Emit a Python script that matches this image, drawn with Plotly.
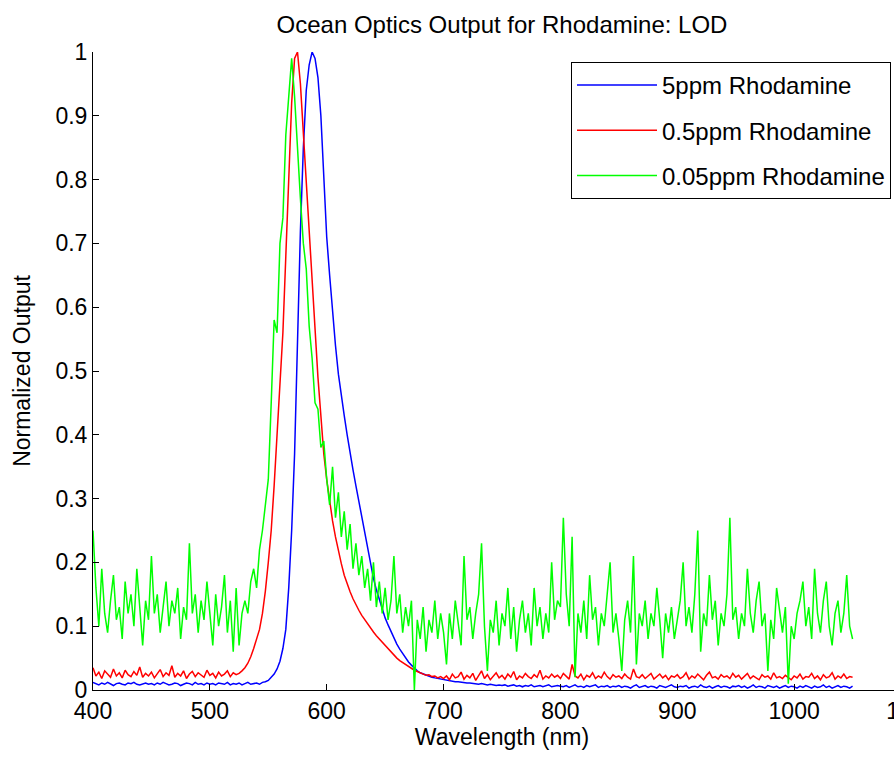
import plotly.graph_objects as go

# wavelength grid (nm), 2.5 nm spacing from 400 to 1050
wavelength = [400 + 2.5 * i for i in range(261)]

blue_5ppm = [
    0.012, 0.010, 0.008, 0.011, 0.009, 0.012, 0.010, 0.007, 0.010, 0.011, 0.009, 0.008, 0.011, 0.010, 0.012, 0.009, 0.008, 0.010, 0.011, 0.009,
    0.010, 0.008, 0.011, 0.009, 0.012, 0.010, 0.008, 0.009, 0.011, 0.010, 0.007, 0.009, 0.011, 0.010, 0.008, 0.012, 0.009, 0.010, 0.008, 0.011,
    0.009, 0.010, 0.008, 0.011, 0.010, 0.009, 0.012, 0.008, 0.010, 0.009, 0.011, 0.008, 0.010, 0.012, 0.009, 0.010, 0.011, 0.009, 0.012, 0.013,
    0.015, 0.020, 0.025, 0.033, 0.045, 0.065, 0.095, 0.16, 0.25, 0.37, 0.55, 0.72, 0.85, 0.94, 0.98, 1.0, 0.99, 0.96, 0.90, 0.81,
    0.71, 0.65, 0.59, 0.54, 0.495, 0.46, 0.43, 0.40, 0.37, 0.345, 0.32, 0.295, 0.27, 0.245, 0.22, 0.195, 0.175, 0.157, 0.142, 0.127,
    0.113, 0.102, 0.091, 0.081, 0.072, 0.064, 0.057, 0.05, 0.044, 0.039, 0.034, 0.030, 0.027, 0.025, 0.023, 0.021, 0.020, 0.019, 0.018, 0.017,
    0.016, 0.015, 0.015, 0.014, 0.013, 0.013, 0.012, 0.012, 0.011, 0.011, 0.010, 0.010, 0.009, 0.010, 0.009, 0.008, 0.009, 0.008, 0.007, 0.008,
    0.007, 0.008, 0.006, 0.007, 0.008, 0.006, 0.007, 0.005, 0.007, 0.006, 0.008, 0.005, 0.006, 0.007, 0.005, 0.006, 0.008, 0.005, 0.006, 0.007,
    0.006, 0.005, 0.007, 0.004, 0.006, 0.008, 0.005, 0.006, 0.004, 0.007, 0.005, 0.006, 0.008, 0.004, 0.006, 0.005, 0.007, 0.004, 0.006, 0.005,
    0.007, 0.004, 0.006, 0.005, 0.003, 0.006, 0.008, 0.004, 0.005, 0.007, 0.004, 0.006, 0.005, 0.003, 0.007, 0.005, 0.004, 0.006, 0.008, 0.005,
    0.004, 0.006, 0.005, 0.007, 0.003, 0.005, 0.006, 0.004, 0.008, 0.005, 0.004, 0.006, 0.003, 0.005, 0.007, 0.004, 0.006, 0.005, 0.003, 0.006,
    0.005, 0.007, 0.004, 0.006, 0.003, 0.005, 0.008, 0.004, 0.006, 0.005, 0.003, 0.007, 0.005, 0.004, 0.006, 0.003, 0.005, 0.007, 0.004, 0.006,
    0.005, 0.003, 0.006, 0.004, 0.007, 0.005, 0.003, 0.006, 0.004, 0.005, 0.008, 0.004, 0.006, 0.003, 0.005, 0.007, 0.004, 0.006, 0.005, 0.003, 0.006,
]

red_05ppm = [
    0.035, 0.022, 0.028, 0.018, 0.030, 0.025, 0.020, 0.033, 0.022, 0.027, 0.019, 0.031, 0.024, 0.021, 0.029, 0.023, 0.036, 0.020, 0.026, 0.022,
    0.028, 0.019, 0.025, 0.032, 0.021, 0.027, 0.023, 0.038, 0.020, 0.026, 0.022, 0.030, 0.018, 0.025, 0.029, 0.021, 0.027, 0.024, 0.020, 0.031,
    0.023, 0.026, 0.019, 0.028, 0.022, 0.025, 0.030, 0.021, 0.027, 0.024, 0.026, 0.030, 0.035, 0.042, 0.052, 0.065, 0.080, 0.095, 0.12, 0.155,
    0.20, 0.25, 0.32, 0.40, 0.48, 0.56, 0.68, 0.80, 0.92, 0.99, 1.0, 0.95, 0.87, 0.79, 0.71, 0.63, 0.56, 0.49, 0.43, 0.37,
    0.33, 0.295, 0.265, 0.24, 0.218, 0.198, 0.18, 0.166, 0.154, 0.143, 0.133, 0.125, 0.117, 0.110, 0.103, 0.097, 0.091, 0.085, 0.080, 0.074,
    0.069, 0.064, 0.059, 0.054, 0.050, 0.046, 0.043, 0.040, 0.036, 0.033, 0.031, 0.029, 0.027, 0.025, 0.023, 0.024, 0.021, 0.022, 0.019, 0.021,
    0.018, 0.022, 0.016, 0.025, 0.019, 0.021, 0.028, 0.017, 0.023, 0.019, 0.026, 0.015, 0.022, 0.030, 0.018, 0.024, 0.016, 0.021, 0.027, 0.019,
    0.023, 0.017, 0.025, 0.020, 0.029, 0.016, 0.022, 0.019, 0.026, 0.021, 0.018, 0.024, 0.020, 0.031, 0.017, 0.022, 0.019, 0.025, 0.020, 0.023,
    0.018, 0.026, 0.021, 0.017, 0.040, 0.022, 0.019, 0.025, 0.016, 0.023, 0.020, 0.027, 0.018, 0.022, 0.019, 0.028, 0.021, 0.017, 0.024, 0.020,
    0.022, 0.018, 0.025, 0.020, 0.017, 0.033, 0.021, 0.019, 0.024, 0.018, 0.022, 0.026, 0.017, 0.021, 0.025, 0.019, 0.023, 0.016, 0.022, 0.020,
    0.024, 0.018, 0.021, 0.027, 0.017, 0.022, 0.019, 0.025, 0.020, 0.016, 0.023, 0.028, 0.019, 0.021, 0.017, 0.024, 0.020, 0.022, 0.018, 0.026,
    0.020, 0.023, 0.017, 0.021, 0.026, 0.018, 0.022, 0.019, 0.016, 0.024, 0.020, 0.022, 0.017, 0.027, 0.019, 0.021, 0.018, 0.023, 0.020, 0.016,
    0.022, 0.019, 0.025, 0.017, 0.021, 0.020, 0.026, 0.018, 0.022, 0.016, 0.024, 0.019, 0.021, 0.027, 0.017, 0.022, 0.019, 0.025, 0.018, 0.021, 0.020,
]

green_005ppm = [
    0.25, 0.16, 0.10, 0.19, 0.12, 0.09, 0.14, 0.18, 0.11, 0.13, 0.08, 0.17, 0.12, 0.15, 0.10, 0.19, 0.13, 0.07, 0.14, 0.11,
    0.21, 0.12, 0.15, 0.09, 0.13, 0.17, 0.10, 0.14, 0.12, 0.16, 0.08, 0.13, 0.11, 0.23, 0.12, 0.15, 0.09, 0.14, 0.11, 0.17,
    0.12, 0.07, 0.15, 0.10, 0.13, 0.18, 0.09, 0.14, 0.06, 0.16, 0.07, 0.12, 0.14, 0.12, 0.17, 0.19, 0.16, 0.22, 0.25, 0.29,
    0.33, 0.45, 0.58, 0.56, 0.70, 0.74, 0.87, 0.93, 0.99, 0.93, 0.84, 0.77, 0.70, 0.66, 0.57, 0.52, 0.45, 0.44, 0.38, 0.39,
    0.33, 0.29, 0.35, 0.27, 0.31, 0.24, 0.28, 0.22, 0.26, 0.19, 0.23, 0.18, 0.21, 0.16, 0.19, 0.14, 0.20, 0.13, 0.17, 0.12,
    0.16, 0.11, 0.14, 0.21, 0.12, 0.15, 0.09, 0.13, 0.10, 0.14, 0.0, 0.11, 0.08, 0.13, 0.06, 0.11, 0.09, 0.14, 0.08, 0.12,
    0.09, 0.04, 0.12, 0.08, 0.14, 0.10, 0.07, 0.21, 0.11, 0.13, 0.08, 0.12, 0.15, 0.23, 0.10, 0.03, 0.11, 0.09, 0.14, 0.07,
    0.12, 0.10, 0.16, 0.08, 0.13, 0.06, 0.11, 0.14, 0.09, 0.12, 0.07, 0.16, 0.10, 0.13, 0.08, 0.12, 0.09, 0.20, 0.11, 0.14,
    0.13, 0.27, 0.15, 0.10, 0.24, 0.02, 0.12, 0.09, 0.14, 0.08, 0.18, 0.11, 0.13, 0.07, 0.12, 0.10, 0.15, 0.20, 0.09, 0.12,
    0.08, 0.03, 0.11, 0.14, 0.09, 0.21, 0.04, 0.12, 0.10, 0.14, 0.08, 0.12, 0.10, 0.16, 0.11, 0.05, 0.12, 0.09, 0.13, 0.08,
    0.11, 0.14, 0.20, 0.10, 0.13, 0.09, 0.15, 0.25, 0.06, 0.12, 0.10, 0.18, 0.11, 0.14, 0.07, 0.12, 0.10, 0.15, 0.27, 0.11,
    0.13, 0.08, 0.12, 0.10, 0.19, 0.12, 0.09, 0.14, 0.17, 0.10, 0.12, 0.03, 0.11, 0.08, 0.16, 0.12, 0.09, 0.13, 0.01, 0.10,
    0.08, 0.12, 0.14, 0.17, 0.10, 0.13, 0.08, 0.19, 0.12, 0.09, 0.14, 0.17, 0.10, 0.07, 0.12, 0.14, 0.09, 0.12, 0.18, 0.10, 0.08,
]

series_names = ["5ppm Rhodamine", "0.5ppm Rhodamine", "0.05ppm Rhodamine"]
series_values = [blue_5ppm, red_05ppm, green_005ppm]
series_colors = ["#0000ff", "#ff0000", "#00ff00"]

FONT = "Liberation Sans, Arial, Helvetica, sans-serif"

fig = go.Figure()
for name, vals, col in zip(series_names, series_values, series_colors):
    fig.add_trace(go.Scatter(
        x=wavelength, y=vals, mode="lines", name=name, legendgroup=name,
        line=dict(color=col, width=1.5),
    ))

axis_common = dict(
    showline=True, linecolor="black", linewidth=1, mirror=False,
    ticks="inside", ticklen=6, tickwidth=1, tickcolor="black",
    showgrid=False, zeroline=False, automargin=False,
    tickfont=dict(family=FONT, size=23, color="black"),
)

fig.update_layout(
    width=912, height=762, autosize=False,
    margin=dict(l=93, r=1, t=52, b=72, autoexpand=False),
    paper_bgcolor="white", plot_bgcolor="white",
    font=dict(family=FONT, size=23, color="black"),
    title=dict(text="Ocean Optics Output for Rhodamine: LOD", x=0.5, xref="paper",
               y=1 - 25 / 762, yref="container", yanchor="middle", xanchor="center",
               font=dict(family=FONT, size=24, color="black")),
    xaxis=dict(range=[400, 1100], dtick=100, tick0=400, ticklabeloverflow="allow",
               title=dict(text="Wavelength (nm)", font=dict(family=FONT, size=23, color="black"), standoff=6),
               **axis_common),
    yaxis=dict(range=[0, 1], dtick=0.1, tick0=0,
               title=dict(text="Normalized Output", font=dict(family=FONT, size=23, color="black"), standoff=18),
               **axis_common),
    legend=dict(x=(891 - 93) / (911 - 93), xanchor="right", y=(690 - 62) / 638, yanchor="top",
                bgcolor="white", bordercolor="black", borderwidth=1,
                font=dict(family=FONT, size=24, color="black"),
                tracegroupgap=11, itemwidth=80),
    showlegend=True,
)

fig.write_html(
    "out.html",
    config={"displayModeBar": False},
    post_script="document.documentElement.style.overflow='hidden';document.body.style.overflow='hidden';document.body.style.margin='0';",
)
